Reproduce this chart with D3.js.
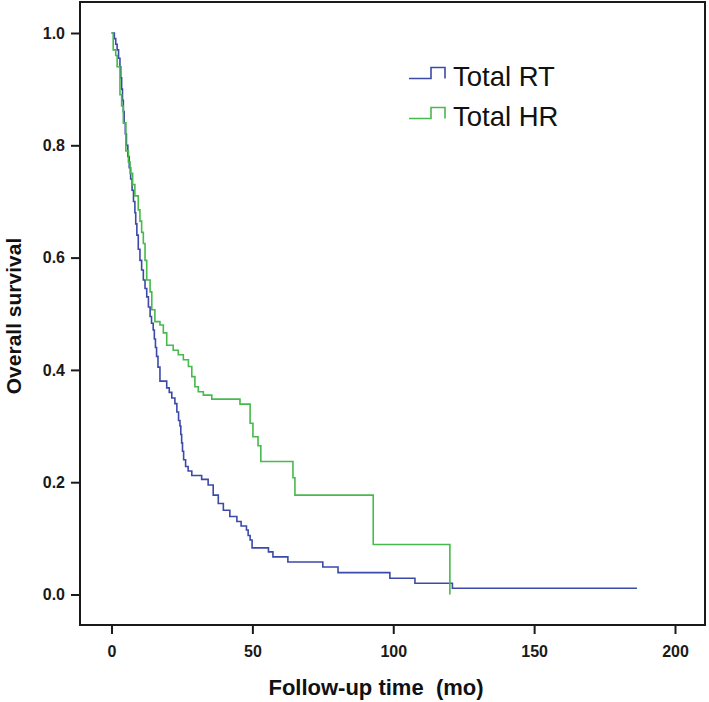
<!DOCTYPE html>
<html>
<head>
<meta charset="utf-8">
<script src="https://cdn.jsdelivr.net/npm/d3@7"></script>
<style>
  html, body { margin: 0; padding: 0; background: #fff; }
  svg { display: block; }
</style>
</head>
<body>
<svg id="chart" width="709" height="702"></svg>
<script>
// ---- Data ----
// Kaplan-Meier step points: [time (mo), survival after this time]
const seriesNames = ["Total RT", "Total HR"];
const seriesColors = ["#3b4aa8", "#47b94d"];

const totalRT = [
  [0, 1.0], [1.0, 0.99], [1.5, 0.98], [2.0, 0.97], [2.5, 0.955], [3.0, 0.94],
  [3.3, 0.92], [3.6, 0.90], [3.9, 0.88], [4.2, 0.86], [4.5, 0.84], [4.9, 0.82],
  [5.3, 0.80], [5.8, 0.78], [6.3, 0.76], [6.8, 0.74], [7.3, 0.72], [7.8, 0.70],
  [8.3, 0.68], [8.6, 0.66], [9.0, 0.64], [9.5, 0.615], [10.1, 0.595], [10.7, 0.578],
  [11.3, 0.56], [11.9, 0.545], [12.5, 0.53], [13.1, 0.512], [13.7, 0.495], [14.2, 0.483],
  [14.8, 0.471], [15.2, 0.455], [15.6, 0.44], [16.0, 0.424], [16.5, 0.405], [17.2, 0.38],
  [19.6, 0.368], [20.5, 0.36], [21.4, 0.35], [22.5, 0.34], [23.2, 0.325], [23.8, 0.31],
  [24.3, 0.30], [24.6, 0.285], [24.9, 0.27], [25.2, 0.255], [25.6, 0.24], [26.3, 0.228],
  [27.2, 0.22], [28.5, 0.212], [32.0, 0.205], [34.3, 0.195], [36.1, 0.177], [37.9, 0.162],
  [39.7, 0.150], [42.0, 0.139], [44.5, 0.130], [46.0, 0.122], [47.9, 0.115], [48.5, 0.105],
  [49.2, 0.097], [49.9, 0.083], [55.7, 0.076], [57.3, 0.067], [62.6, 0.058], [75.0, 0.049],
  [80.4, 0.039], [98.8, 0.029], [107.7, 0.020], [121.0, 0.011], [186.5, 0.011]
];

const totalHR = [
  [0, 1.0], [0.6, 0.97], [1.5, 0.96], [2.0, 0.94], [3.0, 0.89], [3.6, 0.87],
  [4.2, 0.84], [5.1, 0.79], [6.0, 0.77], [6.6, 0.75], [7.5, 0.73], [8.3, 0.71],
  [9.5, 0.685], [10.1, 0.665], [10.7, 0.645], [11.3, 0.625], [11.9, 0.595], [12.5, 0.56],
  [13.7, 0.539], [14.3, 0.507], [15.4, 0.486], [17.2, 0.48], [18.4, 0.466], [19.6, 0.444],
  [21.9, 0.435], [23.7, 0.427], [25.5, 0.418], [27.3, 0.406], [28.5, 0.388], [29.6, 0.37],
  [30.8, 0.361], [32.6, 0.355], [35.6, 0.348], [45.6, 0.339], [49.2, 0.305], [50.2, 0.281],
  [52.0, 0.265], [53.0, 0.237], [64.4, 0.208], [65.1, 0.177], [92.9, 0.089], [120.1, 0.0]
];

const xTicks = [0, 50, 100, 150, 200];
const yTicks = [0.0, 0.2, 0.4, 0.6, 0.8, 1.0];
const xTitle = "Follow-up time\u00A0 (mo)";
const yTitle = "Overall survival";

// ---- Layout ----
const frame = { left: 80, top: 2, right: 705, bottom: 625 };
const svg = d3.select("#chart");

const x = d3.scaleLinear().domain([0, 200]).range([111.5, 675]);
const y = d3.scaleLinear().domain([0, 1]).range([594.5, 33]);

// frame
svg.append("rect")
  .attr("x", frame.left).attr("y", frame.top)
  .attr("width", frame.right - frame.left).attr("height", frame.bottom - frame.top)
  .attr("fill", "none").attr("stroke", "#1a1a1a").attr("stroke-width", 2);

// y axis
const yAxis = svg.append("g")
  .attr("transform", `translate(${frame.left},0)`)
  .call(d3.axisLeft(y).tickValues(yTicks).tickFormat(d3.format(".1f")).tickSize(9).tickPadding(6));
yAxis.select(".domain").remove();
yAxis.selectAll(".tick line").attr("stroke", "#1a1a1a").attr("stroke-width", 2);
yAxis.selectAll(".tick text")
  .attr("fill", "#1a1a1a")
  .style("font-family", "'Liberation Sans', Arial, sans-serif")
  .style("font-weight", "bold").style("font-size", "16px");

// x axis
const xAxis = svg.append("g")
  .attr("transform", `translate(0,${frame.bottom})`)
  .call(d3.axisBottom(x).tickValues(xTicks).tickFormat(d3.format("d")).tickSize(9).tickPadding(12));
xAxis.select(".domain").remove();
xAxis.selectAll(".tick line").attr("stroke", "#1a1a1a").attr("stroke-width", 2);
xAxis.selectAll(".tick text")
  .attr("fill", "#1a1a1a")
  .style("font-family", "'Liberation Sans', Arial, sans-serif")
  .style("font-weight", "bold").style("font-size", "16px");

// curves
const line = d3.line()
  .x(d => x(d[0]))
  .y(d => y(d[1]))
  .curve(d3.curveStepAfter);

[totalRT, totalHR].forEach((data, i) => {
  svg.append("path")
    .datum(data)
    .attr("d", line)
    .attr("fill", "none")
    .attr("stroke", seriesColors[i])
    .attr("stroke-width", 1.6);
});

// legend
const legendRows = [86, 126];
seriesNames.forEach((name, i) => {
  const by = legendRows[i];
  const low = by - 7.5, high = by - 18.5;
  svg.append("path")
    .attr("d", `M409,${low}H431V${high}H445V${low}`)
    .attr("fill", "none")
    .attr("stroke", seriesColors[i])
    .attr("stroke-width", 1.6);
  svg.append("text")
    .attr("x", 453).attr("y", by)
    .attr("fill", "#111")
    .style("font-family", "'Liberation Sans', Arial, sans-serif")
    .style("font-size", "27.5px")
    .text(name);
});

// axis titles
svg.append("text")
  .attr("x", 376).attr("y", 695)
  .attr("text-anchor", "middle")
  .attr("fill", "#111")
  .style("font-family", "'Liberation Sans', Arial, sans-serif")
  .style("font-weight", "bold").style("font-size", "22px")
  .text(xTitle);

svg.append("text")
  .attr("transform", "translate(21,316) rotate(-90)")
  .attr("text-anchor", "middle")
  .attr("fill", "#111")
  .style("font-family", "'Liberation Sans', Arial, sans-serif")
  .style("font-weight", "bold").style("font-size", "21px")
  .text(yTitle);
</script>
</body>
</html>
